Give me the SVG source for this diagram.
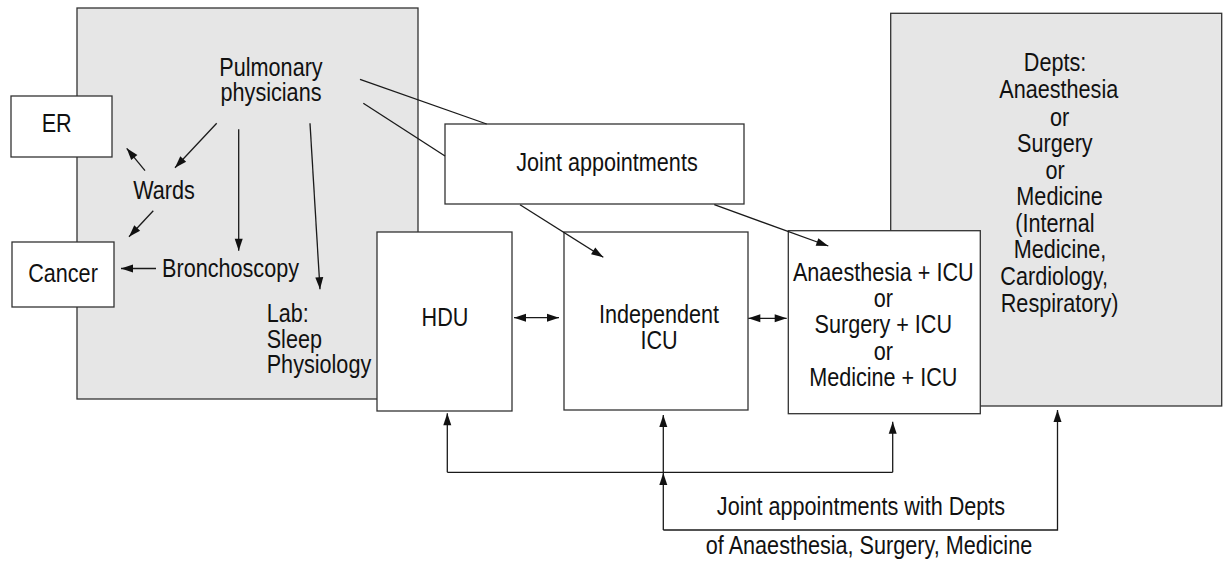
<svg xmlns="http://www.w3.org/2000/svg" width="1223" height="562" viewBox="0 0 1223 562">
<style>
.grey{fill:#e6e6e6;stroke:#333;stroke-width:1.3}
.box{fill:#fff;stroke:#333;stroke-width:1.3}
.ln{fill:none;stroke:#1a1a1a;stroke-width:1.3}
.arr{marker-end:url(#ah)}
.dbl{marker-start:url(#ah);marker-end:url(#ah)}
text{font-family:"Liberation Sans",Arial,Helvetica,sans-serif;font-size:25px;fill:#111}
.c{text-anchor:middle}
</style>
<defs>
<marker id="ah" markerUnits="userSpaceOnUse" markerWidth="14" markerHeight="10" viewBox="0 0 12 10" refX="12" refY="5" orient="auto-start-reverse">
<path d="M0,1 L12,5 L0,9 z" fill="#111"/>
</marker>
</defs>

<g id="pulmonary-area">
<rect class="grey" x="77" y="8" width="341" height="391"/>
</g>
<g id="depts-area">
<rect class="grey" x="890.7" y="13.3" width="331" height="392.7"/>
</g>

<g id="er">
<rect class="box" x="11" y="96" width="101" height="61"/>
<text class="c" transform="translate(56.7,131.7) scale(0.865,1)">ER</text>
</g>
<g id="cancer">
<rect class="box" x="12" y="242" width="102" height="65"/>
<text class="c" transform="translate(63,281.7) scale(0.865,1)">Cancer</text>
</g>
<g id="pulmonary">
<text class="c" transform="translate(271,75.5) scale(0.865,1)"><tspan x="0" y="0">Pulmonary</tspan><tspan x="0" y="26">physicians</tspan></text>
</g>
<g id="wards">
<text class="c" transform="translate(164,198.7) scale(0.865,1)">Wards</text>
</g>
<g id="bronchoscopy">
<text class="c" transform="translate(230.5,277) scale(0.865,1)">Bronchoscopy</text>
</g>
<g id="lab">
<text transform="translate(266.7,321.7) scale(0.865,1)"><tspan x="0" y="0">Lab:</tspan><tspan x="0" y="26">Sleep</tspan><tspan x="0" y="51.6">Physiology</tspan></text>
</g>
<g id="joint">
<rect class="box" x="445" y="124" width="299" height="80"/>
<text class="c" transform="translate(607,170.7) scale(0.865,1)">Joint appointments</text>
</g>
<g id="hdu">
<rect class="box" x="377" y="232" width="135" height="179"/>
<text class="c" transform="translate(445,325.7) scale(0.865,1)">HDU</text>
</g>
<g id="icu">
<rect class="box" x="564" y="232" width="184" height="178"/>
<text class="c" transform="translate(659,323.3) scale(0.865,1)"><tspan x="0" y="0">Independent</tspan><tspan x="0" y="25.4">ICU</tspan></text>
</g>
<g id="combined">
<rect class="box" x="788.3" y="230.7" width="192" height="183"/>
<text class="c" transform="translate(883.3,281) scale(0.865,1)"><tspan x="0" y="0">Anaesthesia + ICU</tspan><tspan x="0" y="26">or</tspan><tspan x="0" y="52.5">Surgery + ICU</tspan><tspan x="0" y="79">or</tspan><tspan x="0" y="105.5">Medicine + ICU</tspan></text>
</g>
<g id="depts">
<text class="c" transform="translate(1057,71) scale(0.865,1)"><tspan x="-2.3" y="0">Depts:</tspan><tspan x="2" y="27.3">Anaesthesia</tspan><tspan x="3" y="55">or</tspan><tspan x="-2.5" y="80.7">Surgery</tspan><tspan x="-2.3" y="108">or</tspan><tspan x="3" y="134">Medicine</tspan><tspan x="-2.5" y="160.7">(Internal</tspan><tspan x="3.5" y="187.3">Medicine,</tspan><tspan x="-3.3" y="214">Cardiology,</tspan><tspan x="3" y="240.7">Respiratory)</tspan></text>
</g>
<g id="bottom-label">
<text class="c" transform="translate(861,515) scale(0.865,1)">Joint appointments with Depts</text>
<text class="c" transform="translate(869,554.3) scale(0.865,1)">of Anaesthesia, Surgery, Medicine</text>
</g>

<g id="connectors">
<line class="ln arr" x1="216.7" y1="123.3" x2="175" y2="167.7"/>
<line class="ln arr" x1="238.7" y1="129.3" x2="238.7" y2="250.7"/>
<line class="ln arr" x1="310" y1="123.3" x2="320" y2="289.3"/>
<line class="ln arr" x1="145" y1="170.7" x2="126.7" y2="148.3"/>
<line class="ln arr" x1="153.3" y1="210.7" x2="129" y2="236.7"/>
<line class="ln arr" x1="156" y1="268.5" x2="121" y2="268.5"/>
<line class="ln" x1="360" y1="79.3" x2="486.7" y2="124"/>
<line class="ln" x1="363.3" y1="103.3" x2="445" y2="156"/>
<line class="ln arr" x1="520" y1="204.7" x2="603.3" y2="257.3"/>
<line class="ln arr" x1="714.3" y1="204.7" x2="828.3" y2="246"/>
<line class="ln dbl" x1="514" y1="317.7" x2="559" y2="317.7"/>
<line class="ln dbl" x1="748.3" y1="318.3" x2="786.7" y2="318.3"/>
<polyline class="ln" points="447.3,472.3 892.7,472.3"/>
<line class="ln arr" x1="447.3" y1="472.3" x2="447.3" y2="413.3"/>
<line class="ln arr" x1="892.7" y1="472.3" x2="892.7" y2="421.7"/>
<line class="ln arr" x1="663.3" y1="530" x2="663.3" y2="473"/>
<line class="ln arr" x1="663.3" y1="472.3" x2="663.3" y2="415"/>
<polyline class="ln arr" points="663.3,530 1057.5,530 1057.5,410"/>
</g>
</svg>
